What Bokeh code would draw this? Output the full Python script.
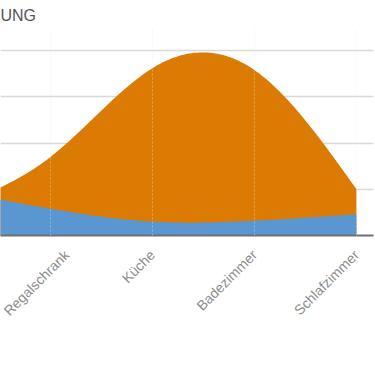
import numpy as np
from bokeh.plotting import figure
from bokeh.models import Range1d, FixedTicker
from bokeh.embed import file_html
from bokeh.resources import INLINE

# ---- data ----
categories = ["Wohnzimmer", "Regalschrank", "Küche", "Badezimmer", "Schlafzimmer"]
orange_values = [30, 85, 181, 179, 50]
blue_values = [50, 29, 15, 16, 23]
y_ticks = [0, 50, 100, 150, 200]
title_text = "UNG"

ORANGE = "#db7b04"
BLUE = "#5a96d0"


def natural_spline(xs, ys, n=40):
    """Natural cubic spline through the data points (unit spacing)."""
    xs = np.asarray(xs, float)
    ys = np.asarray(ys, float)
    m = len(ys)
    A = np.zeros((m, m))
    b = np.zeros(m)
    A[0, 0] = 1.0
    A[-1, -1] = 1.0
    for i in range(1, m - 1):
        A[i, i - 1] = 1.0
        A[i, i] = 4.0
        A[i, i + 1] = 1.0
        b[i] = 6.0 * (ys[i + 1] - 2 * ys[i] + ys[i - 1])
    M = np.linalg.solve(A, b)
    t = np.linspace(0, 1, n)[1:]
    out_x, out_y = [xs[0]], [ys[0]]
    for i in range(m - 1):
        yy = (1 - t) * ys[i] + t * ys[i + 1] - t * (1 - t) / 6.0 * ((2 - t) * M[i] + (1 + t) * M[i + 1])
        out_x.extend(xs[i] + t * (xs[i + 1] - xs[i]))
        out_y.extend(yy)
    return np.array(out_x), np.array(out_y)


idx = list(range(len(categories)))

p = figure(width=375, height=337, output_backend="svg", toolbar_location=None,
           x_range=Range1d(0.51, 4.167), y_range=Range1d(0, 225),
           min_border_left=0, min_border_right=2, min_border_top=0, min_border_bottom=102)

p.title.text = title_text
p.title.text_font = "Liberation Sans"
p.title.text_font_size = "16px"
p.title.text_font_style = "normal"
p.title.text_color = "#555555"
p.title.align = "left"
p.title.offset = 0
p.title.standoff = 8

xo, yo = natural_spline(idx, orange_values)
xb, yb = natural_spline(idx, blue_values)
p.varea(x=xo, y1=0, y2=yo, fill_color=ORANGE, fill_alpha=1.0)
p.varea(x=xb, y1=0, y2=yb, fill_color=BLUE, fill_alpha=1.0)

p.outline_line_color = None
p.background_fill_color = "white"

p.yaxis.visible = False
p.ygrid.ticker = FixedTicker(ticks=y_ticks)
p.ygrid.grid_line_color = "#d9d9d9"
p.ygrid.grid_line_width = 1.5

tick_pos = idx[1:]
p.xaxis.ticker = FixedTicker(ticks=tick_pos)
p.xaxis.major_label_overrides = {i: categories[i] for i in tick_pos}
p.xaxis.major_label_orientation = np.pi / 4
p.xaxis.major_label_text_font = "Liberation Sans"
p.xaxis.major_label_text_font_size = "14px"
p.xaxis.major_label_text_color = "#8c8c8c"
p.xaxis.major_label_standoff = 11
p.xaxis.major_tick_line_color = None
p.xaxis.minor_tick_line_color = None
p.xaxis.axis_line_color = "#707070"
p.xaxis.axis_line_width = 2

p.xgrid.ticker = FixedTicker(ticks=tick_pos)
p.xgrid.level = "overlay"
p.xgrid.grid_line_color = "#e6e6e6"
p.xgrid.grid_line_alpha = 0.4
p.xgrid.grid_line_dash = "2 2"
p.xgrid.grid_line_width = 1

open("out.html", "w").write(file_html(p, INLINE))
